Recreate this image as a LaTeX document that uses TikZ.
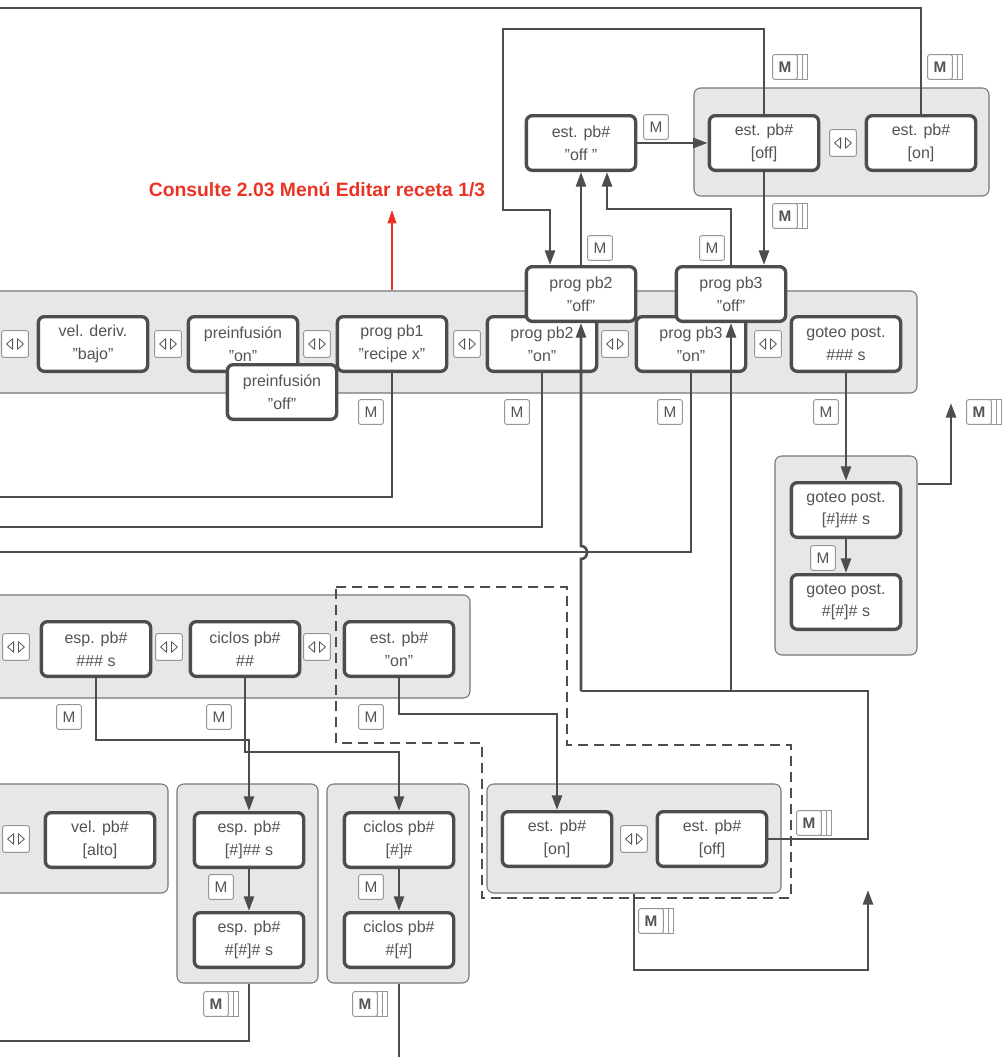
\documentclass[tikz,border=0pt]{standalone}
\usepackage{fontspec}
\setmainfont{Liberation Sans}
\usepackage{tikz}
\usetikzlibrary{positioning,arrows.meta,calc,fit}
\definecolor{boxline}{RGB}{77,77,79}
\definecolor{boxtext}{RGB}{84,84,86}
\definecolor{grpfill}{RGB}{230,231,232}
\definecolor{grpline}{RGB}{118,118,120}
\definecolor{keyline}{RGB}{150,150,152}
\definecolor{refred}{RGB}{235,51,36}

\begin{document}
\begin{tikzpicture}[x=0.75pt, y=-0.75pt,
  scr/.style={rectangle, draw=boxline, fill=white, line width=2.5pt, rounded corners=4.5pt,
              text=boxtext, font=\fontsize{12}{17}\selectfont, minimum width=82pt,
              minimum height=41pt, inner sep=0pt, align=center},
  grp/.style={rectangle, draw=grpline, fill=grpfill, line width=0.8pt, rounded corners=5pt,
              inner sep=0pt},
  lr/.style={rectangle, draw=keyline, fill=white, rounded corners=1.5pt, line width=0.7pt,
             minimum size=20pt, inner sep=0pt,
             path picture={
               \draw[boxtext, line width=0.6pt, line join=round, sharp corners]
                 ([shift={(-1.8pt,-4pt)}]path picture bounding box.center)
                   -- ++(-4.5pt,4pt) -- ++(4.5pt,4pt) -- cycle
                 ([shift={(1.8pt,-4pt)}]path picture bounding box.center)
                   -- ++(4.5pt,4pt) -- ++(-4.5pt,4pt) -- cycle;}},
  mkey/.style={rectangle, draw=keyline, fill=white, rounded corners=1.5pt, line width=0.7pt,
               minimum size=18.5pt, inner sep=0pt, text=boxtext,
               font=\fontsize{11.5}{11.5}\selectfont},
  stackline/.style={draw=keyline, line width=0.7pt},
  mstack/.style={mkey, font=\bfseries\fontsize{11.5}{11.5}\selectfont,
                 append after command={
                   ([xshift=3.8pt]\tikzlastnode.north east) edge[stackline] ([xshift=3.8pt]\tikzlastnode.south east)
                   ([xshift=7.5pt]\tikzlastnode.north east) edge[stackline] ([xshift=7.5pt]\tikzlastnode.south east)
                   ([xshift=-1.5pt]\tikzlastnode.north east) edge[stackline] ([xshift=7.5pt]\tikzlastnode.north east)
                   ([xshift=-1.5pt]\tikzlastnode.south east) edge[stackline] ([xshift=7.5pt]\tikzlastnode.south east)}},
  note/.style={text=refred, font=\bfseries\fontsize{14.5}{17}\selectfont},
  ln/.style={draw=boxline, line width=2pt},
  ar/.style={ln, -{Triangle[length=11pt,width=7.5pt]}},
  redar/.style={draw=refred, line width=1.6pt, -{Triangle[length=10pt,width=6.5pt]}},
  dashbox/.style={draw=boxline, line width=2pt, dash pattern=on 7.5pt off 4.5pt},
]
\useasboundingbox (0,0) rectangle (1002,1057);

% groups
\node[grp, fit={(694,88) (989,196)}] (gTop) {};
\node[grp, fit={(-10,291) (917,393)}] (gMain) {};
\node[grp, fit={(775,456) (917,655)}] (gGot) {};
\node[grp, fit={(-10,595) (470,698)}] (gSec) {};
\node[grp, fit={(-10,784) (168,893)}] (gVel) {};
\node[grp, fit={(177,784) (318,983)}] (gEsp) {};
\node[grp, fit={(327,784) (469,983)}] (gCic) {};
\node[grp, fit={(487,784) (781,893)}] (gEst) {};

\draw[dashbox] (336,587) -| (567,745) -| (791,898) -| (482,743) -| (336,587) -- cycle;

% est. pb# (top)
\node[scr] (estOffQ) at (581,143) {est. pb\#\\”off ”};
\node[scr] (estOff)  at (764,143) {est. pb\#\\{[off]}};
\node[scr] (estOn)   at (921,143) {est. pb\#\\{[on]}};
\node[lr] (lrTop) at (843,143) {};

% main row
\node[lr] (lrA) at (15,344) {};
\node[scr] (velDer) at (93,344) {vel. deriv.\\”bajo”};
\node[lr] (lrB) at (168,344) {};
\node[scr] (preOn) at (243,344) {preinfusión\\”on”};
\node[scr] (preOff) at (282,392) {preinfusión\\”off”};
\node[lr] (lrC) at (317,344) {};
\node[scr] (pbOne) at (392,344) {prog pb1\\”recipe x”};
\node[lr] (lrD) at (467,344) {};
\node[scr] (pbTwoOn) at (542,344) {prog pb2\\”on”};
\node[scr] (pbTwoOff) at (581,294) {prog pb2\\”off”};
\node[lr] (lrE) at (615,344) {};
\node[scr] (pbThreeOn) at (691,344) {prog pb3\\”on”};
\node[scr] (pbThreeOff) at (731,294) {prog pb3\\”off”};
\node[lr] (lrF) at (768,344) {};
\node[scr] (gotS) at (846,344) {goteo post.\\\#\#\# s};

\node[note] (note) at (317,190) {Consulte 2.03 Menú Editar receta 1/3};

% goteo post.
\node[scr] (gotA) at (846,510) {goteo post.\\{[\#]\#\# s}};
\node[scr] (gotB) at (846,602) {goteo post.\\\#[\#]\# s};

% second row
\node[lr] (lrG) at (16,647) {};
\node[scr] (espS) at (96,649) {esp. pb\#\\\#\#\# s};
\node[lr] (lrH) at (169,647) {};
\node[scr] (cicS) at (245,649) {ciclos pb\#\\\#\#};
\node[lr] (lrI) at (317,647) {};
\node[scr] (estOnQ) at (399,649) {est. pb\#\\”on”};

% bottom row
\node[lr] (lrJ) at (16,839) {};
\node[scr] (velAlto) at (100,840) {vel. pb\#\\{[alto]}};
\node[scr] (espA) at (249,840) {esp. pb\#\\{[\#]\#\# s}};
\node[scr] (espB) at (249,940) {esp. pb\#\\\#[\#]\# s};
\node[scr] (cicA) at (399,840) {ciclos pb\#\\{[\#]\#}};
\node[scr] (cicB) at (399,940) {ciclos pb\#\\\#[\#]};
\node[scr] (estOnB) at (557,839) {est. pb\#\\{[on]}};
\node[lr] (lrK) at (634,839) {};
\node[scr] (estOffB) at (712,839) {est. pb\#\\{[off]}};

% keys
\node[mkey] (mEstQ) at (656,127) {M};
\node[mkey] (mPbTwo) at (600,248) {M};
\node[mkey] (mPbThree) at (712,248) {M};
\node[mkey] (mPbOne) at (371,412) {M};
\node[mkey] (mPbTwoOn) at (517,412) {M};
\node[mkey] (mPbThreeOn) at (670,412) {M};
\node[mkey] (mGotS) at (826,412) {M};
\node[mkey] (mGotA) at (823,558) {M};
\node[mkey] (mEspS) at (69,717) {M};
\node[mkey] (mCicS) at (219,717) {M};
\node[mkey] (mEstOnQ) at (371,717) {M};
\node[mkey] (mEspA) at (221,887) {M};
\node[mkey] (mCicA) at (371,887) {M};

\node[mstack] (sEstOff) at (785,67) {M};
\node[mstack] (sEstOn) at (940,67) {M};
\node[mstack] (sEstDown) at (785,216) {M};
\node[mstack] (sEstB) at (809,823) {M};
\node[mstack] (sEstBack) at (651,921) {M};
\node[mstack] (sGot) at (979,412) {M};
\node[mstack] (sEsp) at (216,1004) {M};
\node[mstack] (sCic) at (365,1004) {M};

% free ends
\coordinate (outTop) at (0,8);
\coordinate (outPbOne) at (0,497);
\coordinate (outPbTwo) at (0,527);
\coordinate (outPbThree) at (0,552);
\coordinate (outEsp) at (0,1041);
\coordinate (outCic) at (399,1057);
\coordinate (backEst) at (868,890);
\coordinate (backGot) at (951,403);
\coordinate (joinA) at (581,691);
\coordinate (joinB) at (731,691);

\draw[ln] (estOn.north) |- (outTop);
\draw[ar] (estOff.north) |- (503,29) |- (550,210) -- (pbTwoOff.north -| 550,0);
\draw[ar] (estOffQ.east) -- (estOff.west);
\draw[ar] (estOff.south) -- (pbThreeOff.north -| estOff.south);
\draw[ar] (pbTwoOff.north) -- (estOffQ.south);
\draw[ar] (pbThreeOff.north) |- (607,209) -- (estOffQ.south -| 607,0);
\draw[redar, shorten >=6pt] (pbOne.north |- gMain.north) -- (note.south -| pbOne.north);

\draw[ln] (pbOne.south) |- (outPbOne);
\draw[ln] (pbTwoOn.south) |- (outPbTwo);
\draw[ln] (pbThreeOn.south) |- (outPbThree);

\draw[ln] (estOffB.east) -| (868,691) -- (joinA);
\draw[ar] (joinA) -- (581,559) .. controls (589,559) and (589,546) .. (581,546) -- (pbTwoOff.south);
\draw[ar] (joinB) -- (pbThreeOff.south);

\draw[ar] (gotS.south) -- (gotA.north);
\draw[ar] (gotA.south) -- (gotB.north);
\draw[ar] (gGot.east |- 0,484) -| (backGot);

\draw[ar] (espS.south) |- (espA.north |- 0,740) -- (espA.north);
\draw[ar] (cicS.south) |- (cicA.north |- 0,752) -- (cicA.north);
\draw[ar] (estOnQ.south) |- (estOnB.north |- 0,714) -- (estOnB.north);
\draw[ar] (espA.south) -- (espB.north);
\draw[ar] (cicA.south) -- (cicB.north);
\draw[ln] (espB.south |- gEsp.south) |- (outEsp);
\draw[ln] (cicB.south |- gCic.south) -- (outCic);
\draw[ar] (gEst.south) |- (868,970) -- (backEst);
\end{tikzpicture}
\end{document}
